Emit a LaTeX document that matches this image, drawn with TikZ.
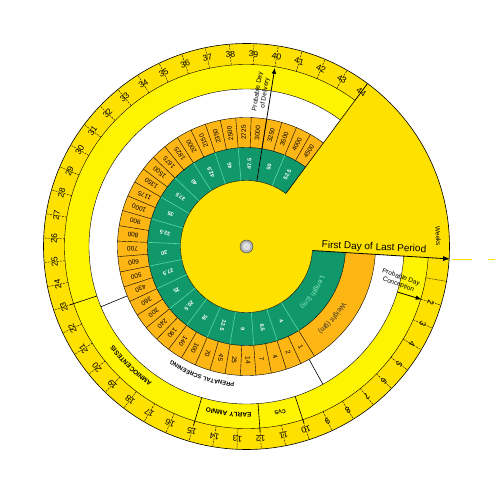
\documentclass[tikz,border=0pt]{standalone}
\usepackage{fontspec}
\setmainfont{Liberation Sans}
\usetikzlibrary{arrows.meta,decorations.text}

\definecolor{wheelgold}{HTML}{FFE100}
\definecolor{bandyellow}{HTML}{FFF400}
\definecolor{weightorange}{HTML}{FDB614}
\definecolor{lengthgreen}{HTML}{10986B}
\definecolor{lengthline}{HTML}{52DBA5}
\definecolor{lengthtext}{HTML}{8CEBC0}

\tikzset{
  weektick/.style={black, line width=0.4pt, dash pattern=on 2pt off 1pt},
  weeklabel/.style={font=\fontsize{8.5}{9}\selectfont, inner sep=0pt},
  weightlabel/.style={font=\fontsize{6.5}{7}\selectfont, inner sep=0pt},
  lengthlabel/.style={font=\bfseries\fontsize{5.5}{6}\selectfont, text=white, inner sep=0pt},
  ringline/.style={black, line width=0.4pt},
  pointer/.style={black, line width=0.8pt, -{Latex[length=6pt,width=4.5pt]}},
  note/.style={font=\fontsize{6.5}{7.5}\selectfont, align=center, inner sep=0pt},
}

\begin{document}
\begin{tikzpicture}[x=1pt,y=1pt]
\useasboundingbox (-246.5,-248.5) rectangle (248.5,246.5);

% outer disc
\fill[wheelgold] (0,0) circle (203);
\fill[bandyellow] (0,0) circle (182);
\fill[white] (0,0) circle (157.5);
\draw[ringline] (0,0) circle (182);
\draw[ringline] (0,0) circle (157.5);

% top disc
\fill[wheelgold] (0,0) -- (-3.5:203) arc[start angle=-3.5, end angle=53.4, radius=203] -- cycle;
\fill[weightorange] (53.4:129) arc[start angle=53.4, end angle=356.5, radius=129]
  -- (356.5:99) arc[start angle=356.5, end angle=53.4, radius=99] -- cycle;
\fill[lengthgreen] (53.4:99) arc[start angle=53.4, end angle=356.5, radius=99]
  -- (356.5:66) arc[start angle=356.5, end angle=53.4, radius=66] -- cycle;
\fill[wheelgold] (0,0) circle (66);
\draw[ringline] (53.4:129) arc[start angle=53.4, end angle=356.5, radius=129];
\draw[ringline] (53.4:99) arc[start angle=53.4, end angle=356.5, radius=99];
\draw[ringline] (53.4:66) arc[start angle=53.4, end angle=356.5, radius=66];
\draw[black, line width=0.6pt] (0,0) circle (203);
\draw[black, line width=0.6pt] (53.4:66) -- (53.4:203);

% weeks
\foreach \w in {1,...,44}{
  \pgfmathsetmacro\ang{81+(40-\w)*6.9}
  \draw[weektick] (\ang:182) -- (\ang:203);
}
\foreach \w in {2,...,44}{
  \pgfmathsetmacro\ang{81+(40-\w)*6.9}
  \node[weeklabel, rotate=\ang-90] (wk\w) at (\ang:192.5) {\w};
}

% test windows
\foreach \w in {23,15,12,10}{
  \pgfmathsetmacro\ang{81+(40-\w)*6.9}
  \draw[ringline, line width=0.6pt] (\ang:157.5) -- (\ang:186);
}
\path[decorate, decoration={text along path, text align=center,
  text={|\bfseries\fontsize{6.5}{7}\selectfont|AMNIOCENTESIS}}]
  (253.5:165.5) arc[start angle=253.5, end angle=198.3, radius=165.5];
\path[decorate, decoration={text along path, text align=center,
  text={|\bfseries\fontsize{6.5}{7}\selectfont|EARLY AMNIO}}]
  (274.2:166) arc[start angle=274.2, end angle=253.5, radius=166];
\node[font=\bfseries\fontsize{5.5}{6}\selectfont, rotate=191.5] (cvs) at (281.5:169) {CVS};

% weights
\foreach \grams [count=\k] in {4500,4000,3500,3250,3000,2725,2500,2350,2150,2000,1825,1675,1500,1350,1175,1000,900,800,700,600,500,430,360,300,240,190,140,100,70,45,25,14,7,4,2,1}{
  \pgfmathsetmacro\ang{53.4+\k*6.9}
  \pgfmathsetmacro\cen{\ang-3.45}
  \draw[ringline] (\ang:99) -- (\ang:129);
  \node[weightlabel, rotate=\cen] (wt\k) at (\cen:114) {\grams};
}
\path[decorate, decoration={text along path, text align=center,
  text={|\color{black!80}\fontsize{7}{8}\selectfont|Weight (gm)}}]
  (-20:111) arc[start angle=-20, end angle=-60, radius=111];

% lengths
\foreach \lencm [count=\k] in {52.5,50,47.5,45,42.5,40,37.5,35,32.5,30,27.5,25,20.5,16,12.5,9,6.5,4}{
  \pgfmathsetmacro\ang{53.4+\k*13.8}
  \pgfmathsetmacro\cen{\ang-6.9}
  \draw[lengthline, line width=0.6pt] (\ang:66) -- (\ang:99);
  \node[lengthlabel, rotate=\cen] (ln\k) at (\cen:82.5) {\lencm};
}
\path[decorate, decoration={text along path, text align=center,
  text={|\color{lengthtext}\fontsize{7}{8}\selectfont|Length (cm)}}]
  (-10:80) arc[start angle=-10, end angle=-60, radius=80];

% screening window
\draw[ringline, line width=0.6pt] (202.5:129) -- (202.5:157.5);
\draw[ringline, line width=0.6pt] (299:129) -- (299:157.5);
\path[decorate, decoration={text along path, text align=center,
  text={|\bfseries\fontsize{5.8}{6.5}\selectfont|PRENATAL SCREENING}}]
  (299:136.5) arc[start angle=299, end angle=202.5, radius=136.5];

% pointers
\draw[wheelgold, line width=0.8pt, dash pattern=on 20pt off 16pt] (205.5,-12.5) -- (248.5,-12.5);
\draw[pointer, -{Latex[length=7pt,width=5pt]}] (-3.5:66) -- (-3.5:204);
\node[font=\fontsize{10}{11}\selectfont, rotate=-2.5] (lmp) at (127.5,-1) {First Day of Last Period};
\node[font=\fontsize{6.5}{7}\selectfont, rotate=-87] (weeks) at (3.1:192) {Weeks};

\draw[pointer] (81:66) -- (81:181);
\node[note, rotate=81] (delivery) at (84.5:155) {Probable Day\\of Delivery};

\draw[pointer] (-16.8:157.5) -- (-16.8:183);
\node[note, rotate=-20] (conception) at (-12.7:157) {Probable Day\\Conception};

% hub bolt
\fill[gray!60] (0,0) circle (6.5);
\fill[gray!25] (0,0) circle (4);
\draw[gray!40!black, line width=0.4pt] (0,0) circle (6.5);
\end{tikzpicture}
\end{document}
